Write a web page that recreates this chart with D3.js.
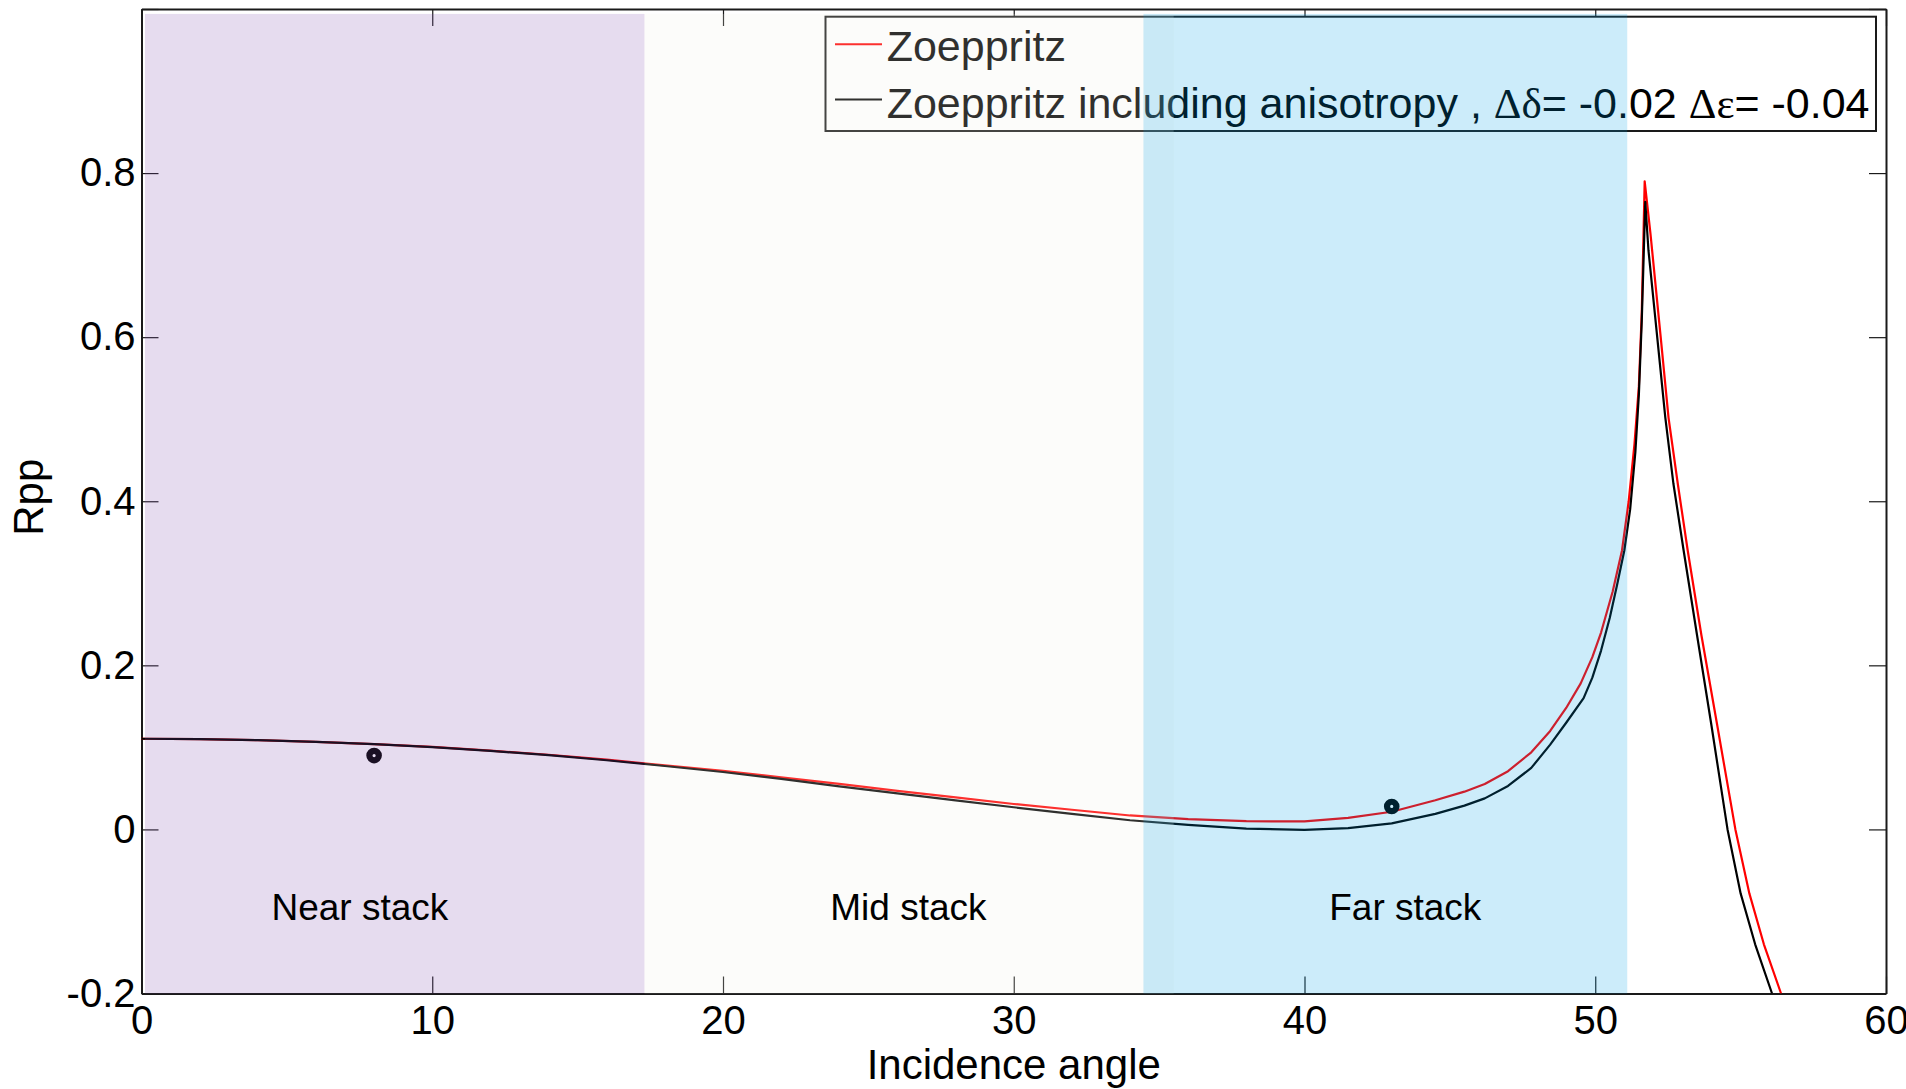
<!DOCTYPE html>
<html>
<head>
<meta charset="utf-8">
<script src="https://cdn.jsdelivr.net/npm/d3@7"></script>
<style>
  html, body { margin: 0; padding: 0; background: #ffffff; }
  svg { display: block; }
  text { font-family: "Liberation Sans", Arial, Helvetica, sans-serif; fill: #000; }
</style>
</head>
<body>
<svg id="chart" width="1906" height="1089"></svg>
<script>
// Isotropic Zoeppritz P-P reflection coefficient vs incidence angle (degrees)
const zoeppritzAngle = [0, 2, 4, 6, 8, 10, 12, 14, 16, 18, 20, 22, 24, 26, 28, 30, 32, 34, 36, 38, 40,
  41.5, 43, 44.5, 45.5, 46.2, 47.0, 47.8, 48.45, 49.0, 49.5, 49.9, 50.2, 50.6, 50.92, 51.15, 51.35, 51.5, 51.6, 51.7,
  51.9, 52.24, 52.52, 52.84, 53.18, 53.65, 54.2, 54.82, 55.3, 55.8, 56.39];
const zoeppritzRpp = [0.1105, 0.1100, 0.1088, 0.1068, 0.1040, 0.1005, 0.0960, 0.0910, 0.0850, 0.0780, 0.0715,
  0.0635, 0.0555, 0.0470, 0.0390, 0.0310, 0.0240, 0.0170, 0.0125, 0.0100, 0.0098,
  0.0140, 0.0215, 0.0355, 0.0460, 0.0553, 0.0710, 0.0940, 0.1200, 0.1480, 0.1780, 0.2100, 0.2400, 0.2900, 0.3400, 0.4000, 0.4700, 0.5400, 0.6300, 0.7900,
  0.7260, 0.6040, 0.5020, 0.4210, 0.3400, 0.2370, 0.1260, 0.0000, -0.0780, -0.1400, -0.2000];

// Zoeppritz including anisotropy (delta contrast -0.02, epsilon contrast -0.04)
const anisoAngle = [0, 2, 4, 6, 8, 10, 12, 14, 16, 18, 20, 22, 24, 26, 28, 30, 32, 34, 36, 38, 40,
  41.5, 43, 44.5, 45.5, 46.2, 47.0, 47.8, 48.45, 49.0, 49.6, 49.9, 50.2, 50.5, 50.75, 51.0, 51.2, 51.38, 51.5, 51.6, 51.72,
  51.83, 52.12, 52.41, 52.69, 53.04, 53.5, 54.0, 54.55, 55.0, 55.5, 56.08];
const anisoRpp = [0.1105, 0.1100, 0.1088, 0.1068, 0.1040, 0.1003, 0.0957, 0.0905, 0.0843, 0.0773, 0.0700,
  0.0615, 0.0525, 0.0440, 0.0355, 0.0270, 0.0190, 0.0112, 0.0055, 0.0010, -0.0005,
  0.0015, 0.0073, 0.0190, 0.0290, 0.0378, 0.0530, 0.0750, 0.1033, 0.1300, 0.1600, 0.1850, 0.2180, 0.2580, 0.2980, 0.3400, 0.3900, 0.4600, 0.5300, 0.6200, 0.7650,
  0.7060, 0.6040, 0.5020, 0.4210, 0.3400, 0.2370, 0.1260, 0.0000, -0.0780, -0.1400, -0.2000];

// Observed picks
const pickAngle = [8, 43];
const pickRpp = [0.090, 0.028];

// Angle stacks
const stackNames = ["Near stack", "Mid stack", "Far stack"];
const stackFrom = [0.12, 17.3, 34.46];
const stackTo = [17.3, 35.5, 51.1];
const stackLabelAngle = [4.47, 23.69, 40.85];
const stackColors = ["#8250af", "#f0f0e6", "#00a0e6"];

const xTicks = [0, 10, 20, 30, 40, 50, 60];
const yTicks = [-0.2, 0, 0.2, 0.4, 0.6, 0.8, 1.0];
const yTickLabels = ["-0.2", "0", "0.2", "0.4", "0.6", "0.8", ""];

const legendLabels = ["Zoeppritz", "Zoeppritz including anisotropy , "];

// ---- layout ----
const plotL = 141.5, plotR = 1886, plotT = 9, plotB = 993.5;
const svg = d3.select("#chart");

const x = d3.scaleLinear().domain([0, 60]).range([plotL, plotR]);
const y = d3.scaleLinear().domain([-0.2, 1.0]).range([plotB, plotT]);

svg.append("defs").append("clipPath").attr("id", "plotClip")
  .append("rect").attr("x", plotL).attr("y", plotT).attr("width", plotR - plotL).attr("height", plotB - plotT);

// ---- axes box and inward ticks on all four sides ----
const tickLen = 17;
function styleAxis(g) {
  g.select(".domain").attr("stroke", "#1a1a1a").attr("stroke-width", 2);
  g.selectAll(".tick line").attr("stroke", "#1a1a1a").attr("stroke-width", 1.2);
  g.selectAll(".tick text").remove();
}

const axes = svg.append("g");
axes.append("g").attr("transform", `translate(0,${plotB})`)
  .call(d3.axisBottom(x).tickValues(xTicks).tickSizeInner(-tickLen).tickSizeOuter(0))
  .call(styleAxis);
axes.append("g").attr("transform", `translate(0,${plotT})`)
  .call(d3.axisTop(x).tickValues(xTicks).tickSizeInner(-tickLen).tickSizeOuter(0))
  .call(styleAxis);
axes.append("g").attr("transform", `translate(${plotL},0)`)
  .call(d3.axisLeft(y).tickValues(yTicks).tickSizeInner(-tickLen).tickSizeOuter(0))
  .call(styleAxis);
axes.append("g").attr("transform", `translate(${plotR},0)`)
  .call(d3.axisRight(y).tickValues(yTicks).tickSizeInner(-tickLen).tickSizeOuter(0))
  .call(styleAxis);

// ---- curves ----
const line = d3.line().x(d => x(d[0])).y(d => y(d[1]));
const curves = svg.append("g").attr("clip-path", "url(#plotClip)");
curves.append("path")
  .datum(d3.zip(zoeppritzAngle, zoeppritzRpp))
  .attr("d", line).attr("fill", "none").attr("stroke", "#ff0000").attr("stroke-width", 2.2)
  .attr("stroke-linejoin", "round");
curves.append("path")
  .datum(d3.zip(anisoAngle, anisoRpp))
  .attr("d", line).attr("fill", "none").attr("stroke", "#000000").attr("stroke-width", 2.2)
  .attr("stroke-linejoin", "round");

// ---- picks ----
svg.append("g").selectAll("circle")
  .data(d3.zip(pickAngle, pickRpp))
  .join("circle")
  .attr("cx", d => x(d[0])).attr("cy", d => y(d[1])).attr("r", 4.7)
  .attr("fill", "#ffffff").attr("stroke", "#000").attr("stroke-width", 6.2);

// ---- legend ----
const lg = svg.append("g");
const lgX = 825.5, lgY = 16.7, lgW = 1050.5, lgH = 114.3;
lg.append("rect").attr("x", lgX).attr("y", lgY).attr("width", lgW).attr("height", lgH)
  .attr("fill", "#ffffff").attr("stroke", "#1a1a1a").attr("stroke-width", 2);
const legendColors = ["#ff0000", "#000000"];
const rowLineY = [44.3, 99.5];
const rowBase = [60.7, 117.5];
legendLabels.forEach((lab, i) => {
  lg.append("line").attr("x1", 835).attr("x2", 882).attr("y1", rowLineY[i]).attr("y2", rowLineY[i])
    .attr("stroke", legendColors[i]).attr("stroke-width", 2);
  const t = lg.append("text").attr("x", 886.7).attr("y", rowBase[i]).style("font-size", "43px");
  t.append("tspan").text(lab);
  if (i === 1) {
    const serif = "'Liberation Serif', 'Times New Roman', serif";
    t.append("tspan").style("font-family", serif).text("\u0394\u03b4");
    t.append("tspan").text("= -0.02 ");
    t.append("tspan").style("font-family", serif).text("\u0394\u03b5");
    t.append("tspan").text("= -0.04");
  }
});

// ---- angle stack shading (translucent, over the curves) ----
svg.append("g").selectAll("rect")
  .data(stackNames.map((n, i) => ({ from: stackFrom[i], to: stackTo[i], color: stackColors[i] })))
  .join("rect")
  .attr("x", d => x(d.from)).attr("width", d => x(d.to) - x(d.from))
  .attr("y", y(0.994)).attr("height", y(-0.2) - y(0.994))
  .attr("fill", d => d.color).attr("fill-opacity", 0.2);

// ---- stack labels ----
svg.append("g").selectAll("text")
  .data(stackNames)
  .join("text")
  .attr("x", (d, i) => x(stackLabelAngle[i])).attr("y", y(-0.111))
  .style("font-size", "37px")
  .text(d => d);

// ---- tick labels ----
function styleLabels(g) {
  g.select(".domain").remove();
  g.selectAll(".tick line").remove();
  g.selectAll(".tick text").style("font-size", "40px").attr("fill", "#000");
}
svg.append("g").attr("transform", `translate(0,${plotB})`)
  .call(d3.axisBottom(x).tickValues(xTicks).tickFormat(d3.format("d")).tickSize(0).tickPadding(12))
  .call(styleLabels);
svg.append("g").attr("transform", `translate(${plotL},0)`)
  .call(d3.axisLeft(y).tickValues(yTicks).tickFormat((d, i) => yTickLabels[i]).tickSize(0).tickPadding(6))
  .call(styleLabels);

// ---- axis titles ----
svg.append("text").attr("x", (plotL + plotR) / 2).attr("y", 1079)
  .attr("text-anchor", "middle").style("font-size", "42px").text("Incidence angle");
svg.append("text").attr("transform", `translate(43,${(plotT + plotB) / 2 - 4}) rotate(-90)`)
  .attr("text-anchor", "middle").style("font-size", "42px").text("Rpp");
</script>
</body>
</html>
